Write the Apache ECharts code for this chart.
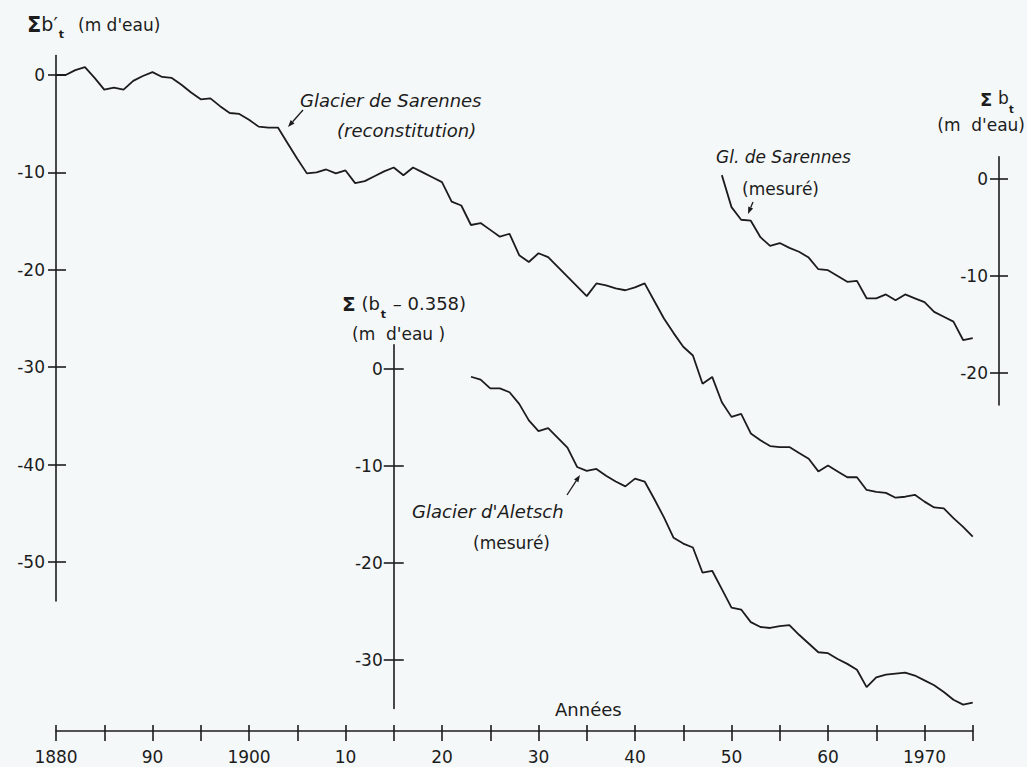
<!DOCTYPE html>
<html>
<head>
<meta charset="utf-8">
<script src="https://cdn.jsdelivr.net/npm/echarts@6/dist/echarts.min.js"></script>
<style>
html,body{margin:0;padding:0;background:#f5f8f8;}
#c{width:1027px;height:767px;}
</style>
</head>
<body>
<div id="c"></div>
<script>
// ---------- data ----------
const recYears = [];
for (let y = 1880; y <= 1975; y++) recYears.push(y);
const recValues = [
  0, 0, 0.5, 0.8, -0.3, -1.5, -1.3, -1.5, -0.6, -0.1,
  0.3, -0.2, -0.3, -1.0, -1.8, -2.5, -2.4, -3.2, -3.9, -4.0,
  -4.6, -5.3, -5.4, -5.4, -7.0, -8.6, -10.1, -10.0, -9.7, -10.1,
  -9.8, -11.1, -10.9, -10.4, -9.9, -9.5, -10.3, -9.5, -10.0, -10.5,
  -11.0, -13.0, -13.4, -15.4, -15.2, -15.9, -16.6, -16.3, -18.5, -19.2,
  -18.3, -18.7, -19.7, -20.7, -21.7, -22.7, -21.4, -21.6, -21.9, -22.1,
  -21.8, -21.4, -23.2, -25.0, -26.5, -27.9, -28.8, -31.7, -31.0, -33.6,
  -35.1, -34.8, -36.8, -37.5, -38.1, -38.2, -38.2, -38.8, -39.4, -40.7,
  -40.1, -40.7, -41.3, -41.3, -42.6, -42.8, -42.9, -43.4, -43.3, -43.1,
  -43.8, -44.4, -44.5, -45.5, -46.4, -47.4
];

const aletschYears = [];
for (let y = 1923; y <= 1975; y++) aletschYears.push(y);
const aletschValues = [
  -0.8, -1.1, -2.0, -2.0, -2.4, -3.6, -5.3, -6.4, -6.1, -7.1,
  -8.1, -10.1, -10.5, -10.3, -11.0, -11.6, -12.1, -11.3, -11.6, -13.4,
  -15.3, -17.4, -18.0, -18.4, -21.0, -20.8, -22.7, -24.6, -24.8, -26.1,
  -26.6, -26.7, -26.5, -26.4, -27.4, -28.3, -29.2, -29.3, -29.9, -30.4,
  -31.0, -32.8, -31.8, -31.5, -31.4, -31.3, -31.6, -32.1, -32.6, -33.3,
  -34.1, -34.6, -34.4
];

const sarMesYears = [];
for (let y = 1949; y <= 1975; y++) sarMesYears.push(y);
const sarMesValues = [
  0.4, -2.9, -4.2, -4.3, -6.0, -6.9, -6.6, -7.1, -7.5, -8.1,
  -9.3, -9.4, -10.0, -10.6, -10.5, -12.3, -12.3, -11.9, -12.5, -11.9,
  -12.3, -12.7, -13.7, -14.2, -14.7, -16.6, -16.4
];

const xLabelYears = [1880, 1890, 1900, 1910, 1920, 1930, 1940, 1950, 1960, 1970];
const xLabelTexts = ['1880', '90', '1900', '10', '20', '30', '40', '50', '60', '1970'];
const leftTicks = [0, -10, -20, -30, -40, -50];
const midTicks = [0, -10, -20, -30];
const rightTicks = [0, -10, -20];

// ---------- layout ----------
const K = 9.65, X0 = 56;
const px = y => X0 + (y - 1880) * K;
const INK = '#1c1c1c';
const FONT = 'DejaVu Sans';

const A = { zero: 75, unit: 9.74, min: -54, max: 2 };
const B = { zero: 369, unit: 9.7, min: -35, max: 2.5 };
const C = { zero: 179, unit: 9.7, min: -23.3, max: 2.3 };
const C_RIGHT = 999;

function gridFor(s, left, width) {
  return {
    left: left, width: width,
    top: s.zero - s.max * s.unit,
    height: (s.max - s.min) * s.unit,
    containLabel: false, outerBoundsMode: 'none'
  };
}

const grids = [
  { left: X0, width: 95 * K, top: 700, height: 31, containLabel: false, outerBoundsMode: 'none' },
  gridFor(A, X0, 95 * K),
  gridFor(B, px(1915), 60 * K),
  gridFor(C, px(1940), C_RIGHT - px(1940))
];

const hiddenX = (gi, min, max) => ({ type: 'value', gridIndex: gi, min: min, max: max, show: false });
const lab = { color: INK, fontFamily: FONT, fontSize: 17 };

function yPair(gi, s, ticks, pos, outLen, inLen, labelInside) {
  return [
    {
      type: 'value', gridIndex: gi, position: pos, min: s.min, max: s.max,
      axisLine: { show: true, lineStyle: { color: INK, width: 1.6 } },
      axisTick: { show: true, inside: false, length: outLen, customValues: ticks, lineStyle: { color: INK, width: 1.6 } },
      axisLabel: Object.assign({ show: true, inside: !!labelInside, margin: 11, customValues: ticks }, lab),
      splitLine: { show: false }
    },
    {
      type: 'value', gridIndex: gi, position: pos, offset: 0, min: s.min, max: s.max,
      axisLine: { show: false },
      axisTick: { show: true, inside: true, length: inLen, customValues: ticks, lineStyle: { color: INK, width: 1.6 } },
      axisLabel: { show: false },
      splitLine: { show: false }
    }
  ];
}

const xAxes = [
  {
    type: 'value', gridIndex: 0, position: 'bottom', min: 1880, max: 1975, interval: 5,
    axisLine: { show: true, onZero: false, lineStyle: { color: INK, width: 1.6 } },
    axisTick: { show: true, inside: false, length: 10, lineStyle: { color: INK, width: 1.6 } },
    axisLabel: Object.assign({
      margin: 17,
      formatter: v => { const i = xLabelYears.indexOf(v); return i >= 0 ? xLabelTexts[i] : ''; }
    }, lab),
    splitLine: { show: false }
  },
  {
    type: 'value', gridIndex: 0, position: 'bottom', offset: 0, min: 1880, max: 1975, interval: 5,
    axisLine: { show: false, onZero: false },
    axisTick: { show: true, inside: true, length: 6, lineStyle: { color: INK, width: 1.6 } },
    axisLabel: { show: false },
    splitLine: { show: false }
  },
  hiddenX(1, 1880, 1975),
  hiddenX(2, 1915, 1975),
  hiddenX(3, 1940, 1940 + (C_RIGHT - px(1940)) / K)
];

const yAxes = [{ type: 'value', gridIndex: 0, show: false, min: 0, max: 1 }]
  .concat(yPair(1, A, leftTicks, 'left', 8, 10, false))
  .concat(yPair(2, B, midTicks, 'left', 10, 10, false))
  .concat(yPair(3, C, rightTicks, 'right', 9, 9, true));

const zip = (xs, ys) => xs.map((x, i) => [x, ys[i]]);
const lineSeries = (name, xi, yi, data) => ({
  name: name, type: 'line', xAxisIndex: xi, yAxisIndex: yi, data: data,
  showSymbol: false, symbol: 'none', smooth: false,
  lineStyle: { color: INK, width: 1.8 }, silent: true
});

// ---------- annotations ----------
function txt(text, x, y, size, opts) {
  opts = opts || {};
  return {
    type: 'text', x: x, y: y, silent: true,
    style: {
      text: text, fill: INK, fontFamily: FONT, fontSize: size,
      fontStyle: opts.italic ? 'italic' : 'normal',
      fontWeight: opts.bold ? 'bold' : 'normal',
      align: opts.align || 'left', verticalAlign: 'middle'
    }
  };
}
// one text element holding a main part and a subscript (rich text)
function subTxt(text, x, yTop, size) {
  return {
    type: 'text', x: x, y: yTop, silent: true,
    style: {
      text: text, fill: INK, fontFamily: FONT, fontSize: size,
      align: 'left', verticalAlign: 'top',
      rich: {
        sig: { fontFamily: FONT, fontSize: size + 2, fontWeight: 'bold', lineHeight: 22, verticalAlign: 'top', fill: INK },
        n: { fontFamily: FONT, fontSize: size, lineHeight: 22, verticalAlign: 'top', fill: INK },
        sub: { fontFamily: FONT, fontSize: 11, fontWeight: 'bold', lineHeight: 12, padding: [15, 1, 0, 1], verticalAlign: 'top', fill: INK }
      }
    }
  };
}
function arrow(x1, y1, x2, y2) {
  const a = Math.atan2(y2 - y1, x2 - x1), L = 7, W = 2.6;
  const bx = x2 - L * Math.cos(a), by = y2 - L * Math.sin(a);
  const nx = -Math.sin(a) * W, ny = Math.cos(a) * W;
  return [
    { type: 'line', silent: true, shape: { x1: x1, y1: y1, x2: bx, y2: by }, style: { stroke: INK, lineWidth: 1.3 } },
    { type: 'polygon', silent: true, shape: { points: [[x2, y2], [bx + nx, by + ny], [bx - nx, by - ny]] }, style: { fill: INK } }
  ];
}

const graphics = [
  // top-left axis title
  subTxt('{sig|Σ}{n|b′}{sub|t}', 27, 14, 19),
  txt("(m d'eau)", 78, 25, 17),
  // right axis title
  txt('Σ', 980, 99, 18, { bold: true }),
  txt('b', 998, 98, 17),
  txt('t', 1009, 109, 10, { bold: true }),
  txt("(m  d'eau)", 1025, 125, 17, { align: 'right' }),
  // middle axis title
  subTxt('{sig|Σ}{n| (b}{sub|t}{n| – 0.358)}', 342, 294, 18),
  txt("(m  d'eau )", 352, 334, 17),
  // curve labels
  txt('Glacier de Sarennes', 300, 100, 18, { italic: true }),
  txt('(reconstitution)', 337, 130, 18, { italic: true }),
  txt('Gl. de Sarennes', 716, 157, 17, { italic: true }),
  txt('(mesuré)', 742, 189, 17),
  txt("Glacier d'Aletsch", 412, 511, 18, { italic: true }),
  txt('(mesuré)', 473, 543, 17),
  txt('Années', 555, 709, 18)
].concat(arrow(303, 110, 288, 127))
 .concat(arrow(753, 202, 748, 214))
 .concat(arrow(567, 495, 580, 475));

const chart = echarts.init(document.getElementById('c'), null, { renderer: 'svg' });
chart.setOption({
  backgroundColor: '#f5f8f8',
  animation: false,
  grid: grids,
  xAxis: xAxes,
  yAxis: yAxes,
  series: [
    lineSeries('Glacier de Sarennes (reconstitution)', 2, 1, zip(recYears, recValues)),
    lineSeries("Glacier d'Aletsch (mesuré)", 3, 3, zip(aletschYears, aletschValues)),
    lineSeries('Gl. de Sarennes (mesuré)', 4, 5, zip(sarMesYears, sarMesValues))
  ],
  graphic: graphics
});
</script>
</body>
</html>
